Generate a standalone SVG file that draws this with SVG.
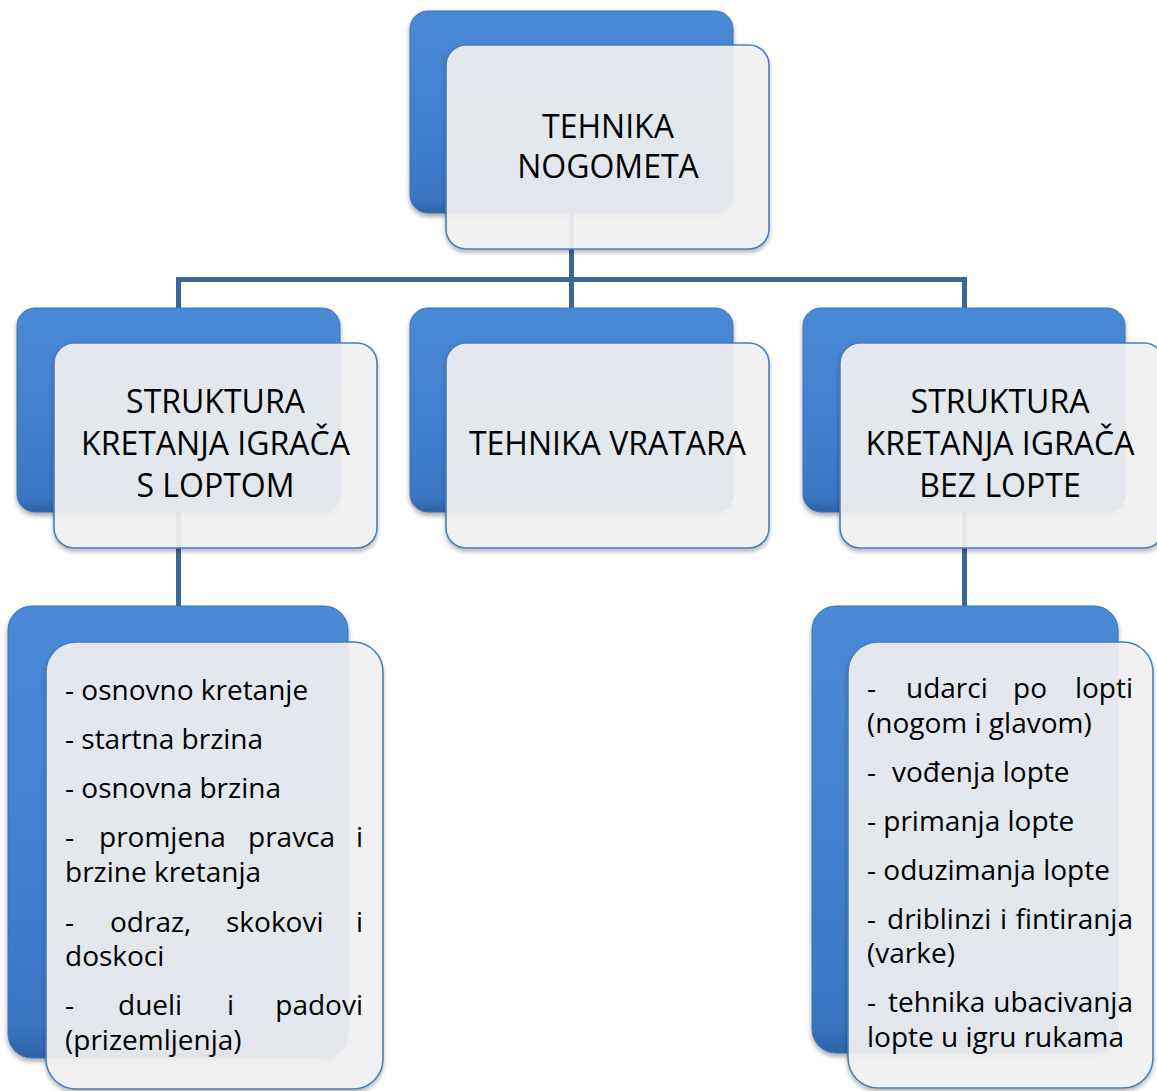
<svg xmlns="http://www.w3.org/2000/svg" width="1157" height="1091" viewBox="0 0 1157 1091">
<defs>
<linearGradient id="blueG" x1="0" y1="0" x2="0" y2="1">
<stop offset="0" stop-color="#4b89d6"/>
<stop offset="0.6" stop-color="#407fcd"/>
<stop offset="0.93" stop-color="#3a75c2"/>
<stop offset="1" stop-color="#2f62a6"/>
</linearGradient>
<filter id="shBlue" x="-10%" y="-10%" width="120%" height="125%">
<feDropShadow dx="0" dy="3" stdDeviation="2.5" flood-color="#000" flood-opacity="0.35"/>
</filter>
<filter id="shFront" x="-10%" y="-10%" width="120%" height="125%">
<feDropShadow dx="0" dy="3" stdDeviation="2" flood-color="#000" flood-opacity="0.3"/>
</filter>
<style>
.blue{fill:url(#blueG);stroke:#3a72bb;stroke-width:1;filter:url(#shBlue)}
.front{fill:#f3f3f3;fill-opacity:0.9;stroke:#4a7ebb;stroke-width:1.6;filter:url(#shFront)}
.conn{stroke:#3c6799;stroke-width:5;fill:none;stroke-linejoin:miter}
.title{font-family:"Open Sans","Noto Sans",sans-serif;font-size:32px;fill:#000;text-anchor:middle}
.body{font-family:"Open Sans","Noto Sans",sans-serif;font-size:28px;fill:#000}
.end{text-anchor:end}
</style>
</defs>
<rect width="1157" height="1091" fill="#ffffff"/>

<g id="connectors">
<line class="conn" x1="571.5" y1="120" x2="571.5" y2="320"/>
<polyline class="conn" points="178.5,320 178.5,279.5 964.5,279.5 964.5,320"/>
<line class="conn" x1="178.5" y1="440" x2="178.5" y2="620"/>
<line class="conn" x1="964.5" y1="440" x2="964.5" y2="620"/>
</g>

<g id="node-tehnika-nogometa">
<rect class="blue" x="410" y="11" width="323" height="202" rx="18"/>
<rect class="front" x="446" y="45" width="323" height="204" rx="20"/>
<text class="title" x="608" y="138">TEHNIKA</text>
<text class="title" x="608" y="178">NOGOMETA</text>
</g>

<g id="node-s-loptom">
<rect class="blue" x="17" y="308" width="323" height="204" rx="18"/>
<rect class="front" x="54" y="343" width="323" height="205" rx="20"/>
<text class="title" x="215.5" y="413">STRUKTURA</text>
<text class="title" x="215.5" y="455">KRETANJA IGRAČA</text>
<text class="title" x="215.5" y="497">S LOPTOM</text>
</g>

<g id="node-vratara">
<rect class="blue" x="410" y="308" width="323" height="204" rx="18"/>
<rect class="front" x="446" y="343" width="323" height="205" rx="20"/>
<text class="title" x="607.5" y="455">TEHNIKA VRATARA</text>
</g>

<g id="node-bez-lopte">
<rect class="blue" x="803" y="308" width="322" height="204" rx="18"/>
<rect class="front" x="840" y="343" width="324" height="205" rx="20"/>
<text class="title" x="1000" y="413">STRUKTURA</text>
<text class="title" x="1000" y="455">KRETANJA IGRAČA</text>
<text class="title" x="1000" y="497">BEZ LOPTE</text>
</g>

<g id="node-list-left">
<rect class="blue" x="8" y="606" width="340" height="452" rx="24"/>
<rect class="front" x="46" y="642" width="337" height="447" rx="30"/>
<text class="body" x="65" y="700">- osnovno kretanje</text>
<text class="body" x="65" y="749">- startna brzina</text>
<text class="body" x="65" y="798">- osnovna brzina</text>
<text class="body" x="65" y="847">-</text>
<text class="body" x="99" y="847">promjena</text>
<text class="body" x="248" y="847">pravca</text>
<text class="body end" x="363" y="847">i</text>
<text class="body" x="65" y="882">brzine kretanja</text>
<text class="body" x="65" y="932">-</text>
<text class="body" x="110" y="932">odraz,</text>
<text class="body" x="226" y="932">skokovi</text>
<text class="body end" x="363" y="932">i</text>
<text class="body" x="65" y="966">doskoci</text>
<text class="body" x="65" y="1015">-</text>
<text class="body" x="118" y="1015">dueli</text>
<text class="body" x="227" y="1015">i</text>
<text class="body end" x="363" y="1015">padovi</text>
<text class="body" x="65" y="1050">(prizemljenja)</text>
</g>

<g id="node-list-right">
<rect class="blue" x="812" y="606" width="306" height="447" rx="24"/>
<rect class="front" x="848" y="642" width="305" height="446" rx="30"/>
<text class="body" x="867" y="698">-</text>
<text class="body" x="906" y="698">udarci</text>
<text class="body" x="1013" y="698">po</text>
<text class="body end" x="1133" y="698">lopti</text>
<text class="body" x="867" y="733">(nogom i glavom)</text>
<text class="body" x="867" y="782">-</text>
<text class="body" x="892" y="782">vođenja lopte</text>
<text class="body" x="867" y="831">- primanja lopte</text>
<text class="body" x="867" y="880">- oduzimanja lopte</text>
<text class="body" x="867" y="929">-</text>
<text class="body" x="887" y="929">driblinzi</text>
<text class="body" x="1000" y="929">i</text>
<text class="body end" x="1133" y="929">fintiranja</text>
<text class="body" x="867" y="963">(varke)</text>
<text class="body" x="867" y="1012">-</text>
<text class="body" x="888" y="1012">tehnika</text>
<text class="body end" x="1133" y="1012">ubacivanja</text>
<text class="body" x="867" y="1047">lopte u igru rukama</text>
</g>
</svg>
